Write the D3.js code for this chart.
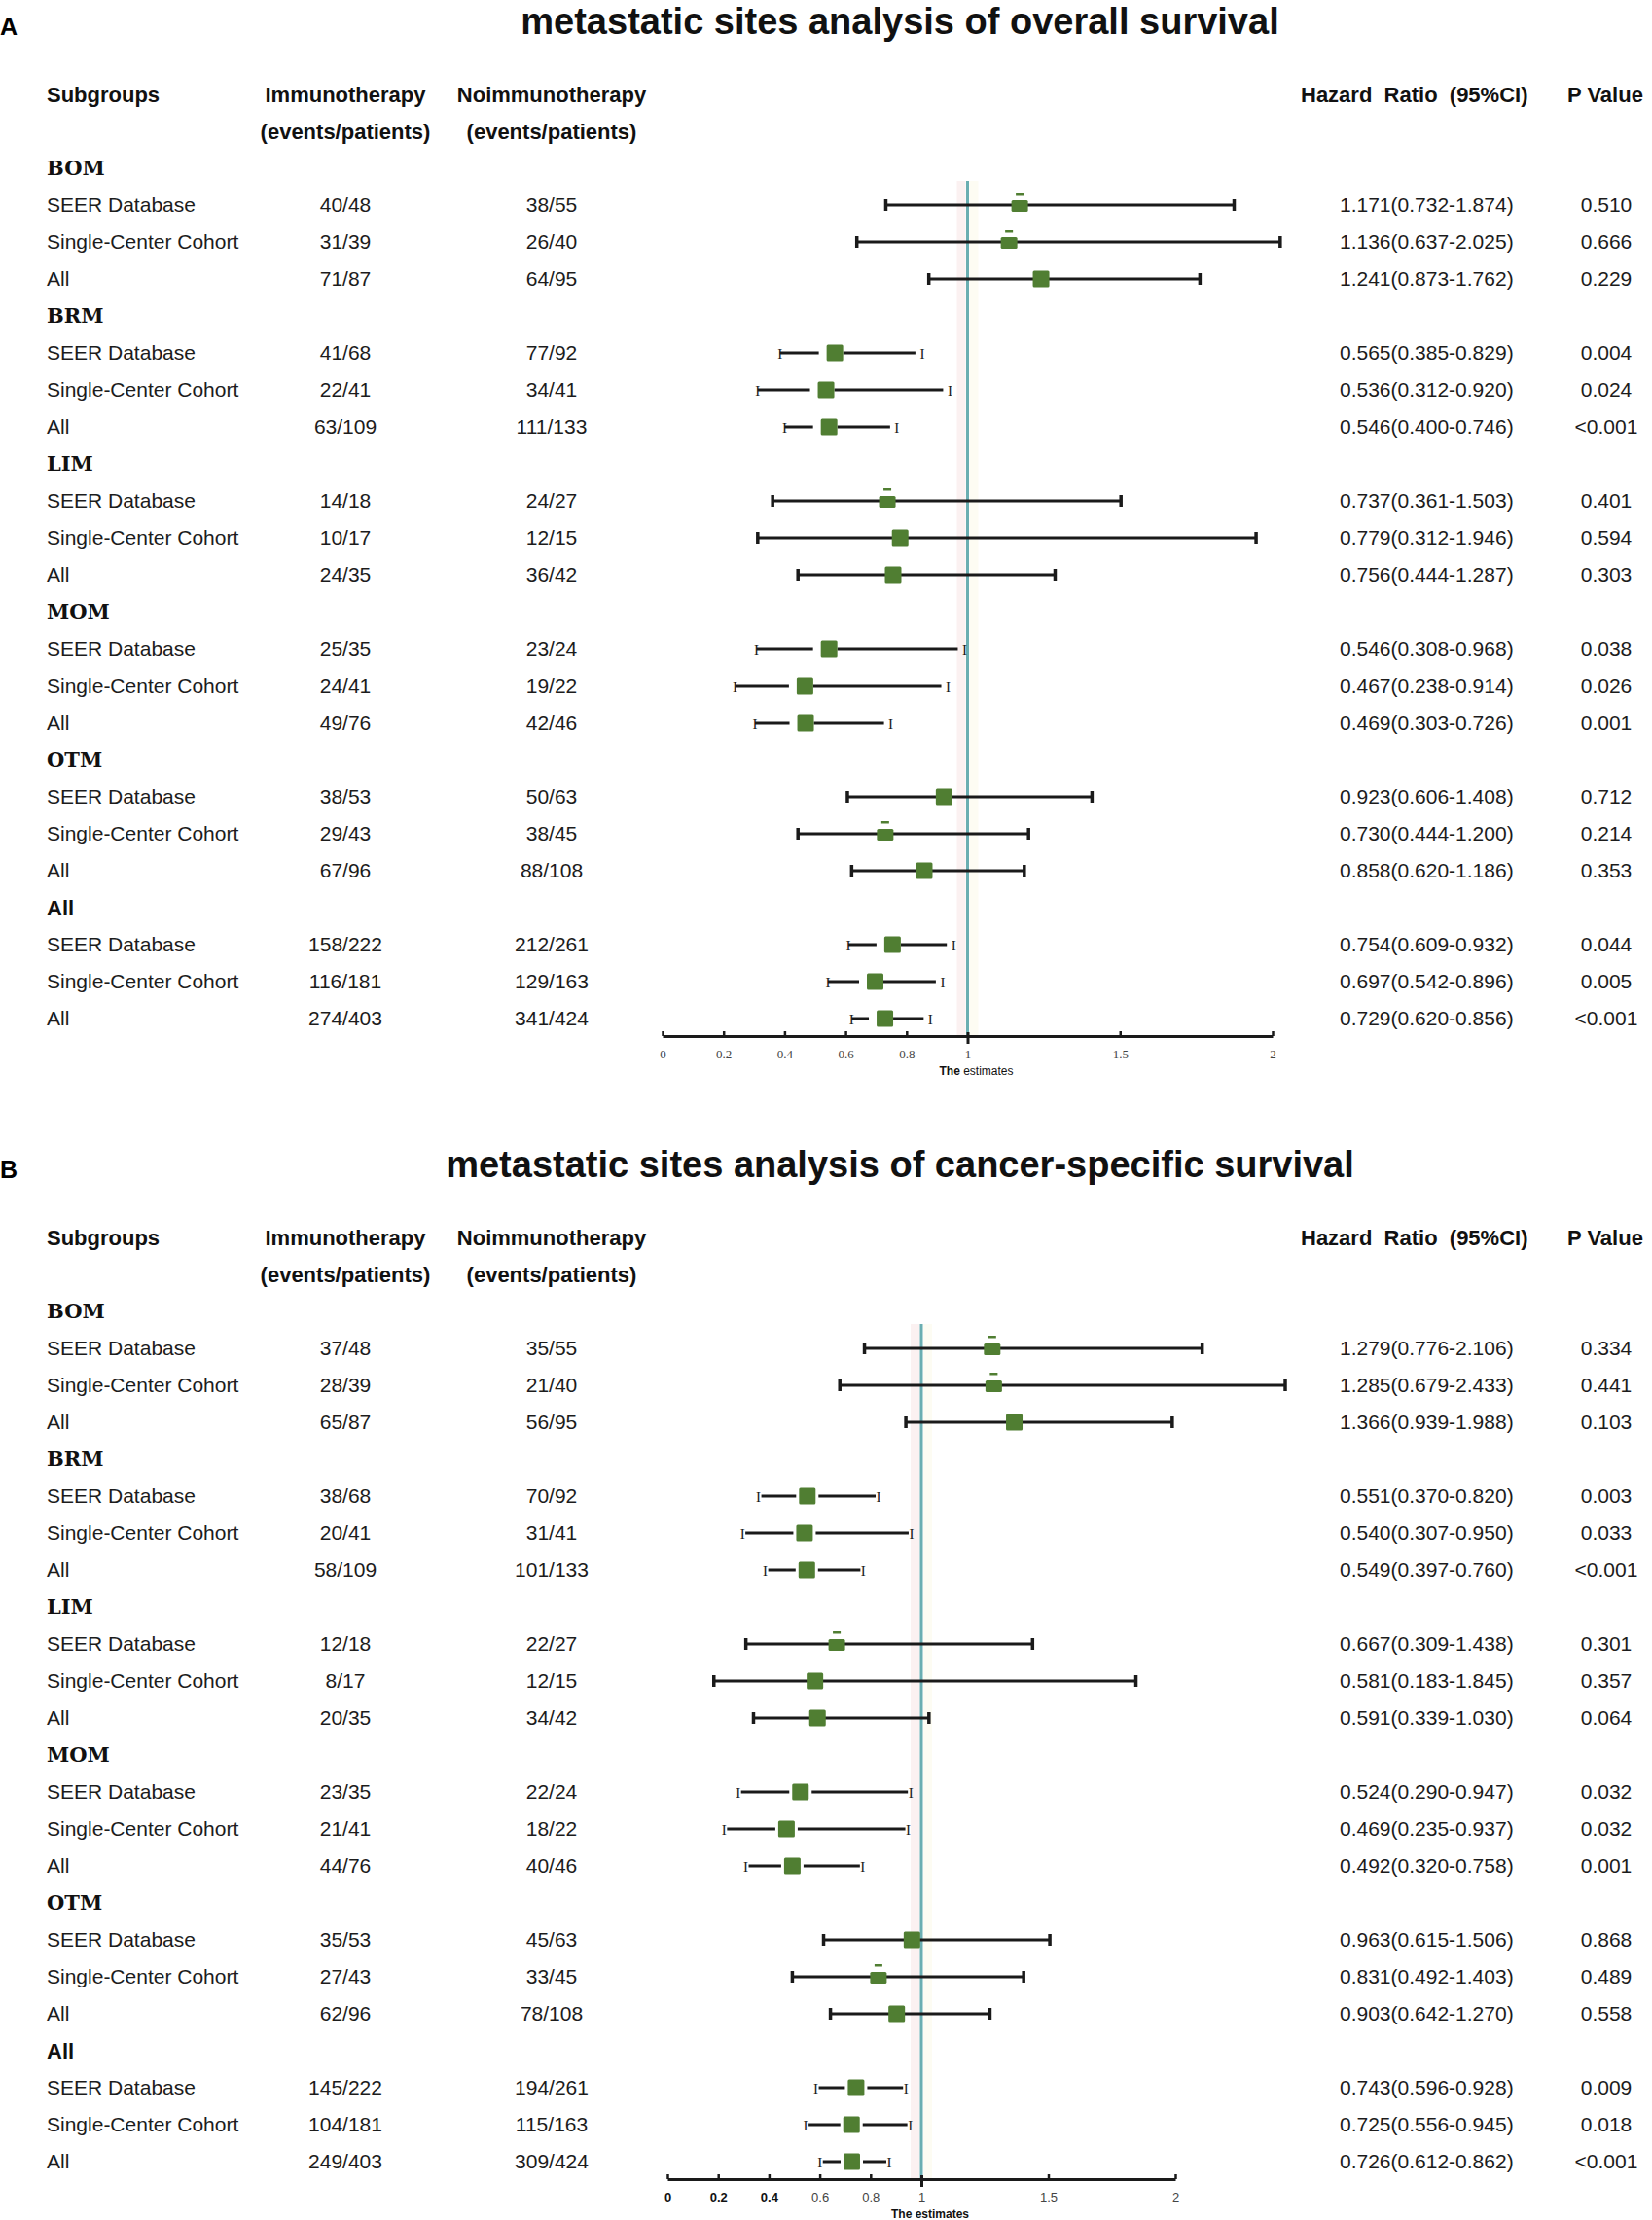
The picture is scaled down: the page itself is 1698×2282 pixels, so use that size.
<!DOCTYPE html>
<html>
<head>
<meta charset="utf-8">
<script src="https://cdn.jsdelivr.net/npm/d3@7"></script>
<style>
  body { margin: 0; background: #fff; }
</style>
</head>
<body>
<svg id="chart"></svg>
<script>
// sub groups and cohorts (same in both panels)
const groups = ["BOM", "BRM", "LIM", "MOM", "OTM", "All"];
const cohorts = ["SEER Database", "Single-Center Cohort", "All"];
const estimateTicks = [0, 0.2, 0.4, 0.6, 0.8, 1, 1.5, 2];

// A: overall survival
const osImmuno = ["40/48","31/39","71/87","41/68","22/41","63/109","14/18","10/17","24/35","25/35","24/41","49/76","38/53","29/43","67/96","158/222","116/181","274/403"];
const osNoImmuno = ["38/55","26/40","64/95","77/92","34/41","111/133","24/27","12/15","36/42","23/24","19/22","42/46","50/63","38/45","88/108","212/261","129/163","341/424"];
const osHR = [1.171,1.136,1.241,0.565,0.536,0.546,0.737,0.779,0.756,0.546,0.467,0.469,0.923,0.730,0.858,0.754,0.697,0.729];
const osLow = [0.732,0.637,0.873,0.385,0.312,0.400,0.361,0.312,0.444,0.308,0.238,0.303,0.606,0.444,0.620,0.609,0.542,0.620];
const osHigh = [1.874,2.025,1.762,0.829,0.920,0.746,1.503,1.946,1.287,0.968,0.914,0.726,1.408,1.200,1.186,0.932,0.896,0.856];
const osP = ["0.510","0.666","0.229","0.004","0.024","<0.001","0.401","0.594","0.303","0.038","0.026","0.001","0.712","0.214","0.353","0.044","0.005","<0.001"];

// B: cancer-specific survival
const cssImmuno = ["37/48","28/39","65/87","38/68","20/41","58/109","12/18","8/17","20/35","23/35","21/41","44/76","35/53","27/43","62/96","145/222","104/181","249/403"];
const cssNoImmuno = ["35/55","21/40","56/95","70/92","31/41","101/133","22/27","12/15","34/42","22/24","18/22","40/46","45/63","33/45","78/108","194/261","115/163","309/424"];
const cssHR = [1.279,1.285,1.366,0.551,0.540,0.549,0.667,0.581,0.591,0.524,0.469,0.492,0.963,0.831,0.903,0.743,0.725,0.726];
const cssLow = [0.776,0.679,0.939,0.370,0.307,0.397,0.309,0.183,0.339,0.290,0.235,0.320,0.615,0.492,0.642,0.596,0.556,0.612];
const cssHigh = [2.106,2.433,1.988,0.820,0.950,0.760,1.438,1.845,1.030,0.947,0.937,0.758,1.506,1.403,1.270,0.928,0.945,0.862];
const cssP = ["0.334","0.441","0.103","0.003","0.033","<0.001","0.301","0.357","0.064","0.032","0.032","0.001","0.868","0.489","0.558","0.009","0.018","<0.001"];

// rows whose marker carries the little dash above it
const dashedMarkers = [0, 1, 6, 13];

const width = 1698, height = 2282;
const SANS = "'Liberation Sans', Arial, sans-serif";
const SLAB = "'DejaVu Serif', 'Courier New', serif";
const SERIF = "'Liberation Serif', 'Times New Roman', serif";
const GREEN = "#507e32";
const TEAL = "#6aaeb1";
const INK = "#1a1a1a";

// column positions
const COL_LABEL = 48, COL_IMMUNO = 355, COL_NOIMMUNO = 567, COL_HR = 1377, COL_P = 1651;
const FIRST_ROW = 173, ROW_STEP = 38, AXIS_Y = 1065;
const fmt = d3.format(".3f");

const svg = d3.select("#chart")
  .attr("width", width)
  .attr("height", height)
  .style("font-family", SANS);

const panels = [
  { letter: "A", title: "metastatic sites analysis of overall survival",
    immuno: osImmuno, noImmuno: osNoImmuno, hr: osHR, lo: osLow, hi: osHigh, p: osP,
    top: 0, range: [681, 1308], tickFont: SERIF, boldTicks: [],
    gapL: 8, gapR: 0, capL: 0, capR: 7, theBoldOnly: true },
  { letter: "B", title: "metastatic sites analysis of cancer-specific survival",
    immuno: cssImmuno, noImmuno: cssNoImmuno, hr: cssHR, lo: cssLow, hi: cssHigh, p: cssP,
    top: 1175, range: [686, 1208], tickFont: SANS, boldTicks: [0, 0.2, 0.4],
    gapL: 3, gapR: 3, capL: -3, capR: 3, theBoldOnly: false }
];

function drawPanel(cfg) {
  const g = svg.append("g").attr("transform", `translate(0,${cfg.top})`);
  const x = d3.scaleLinear().domain([0, 2]).range(cfg.range);
  const rowY = r => FIRST_ROW + r * ROW_STEP;

  const rows = cfg.hr.map((v, i) => ({
    i,
    row: Math.floor(i / 3) * 4 + (i % 3) + 1,
    cohort: cohorts[i % 3],
    immuno: cfg.immuno[i],
    noImmuno: cfg.noImmuno[i],
    hr: v, lo: cfg.lo[i], hi: cfg.hi[i], p: cfg.p[i]
  }));

  // panel letter + title
  g.append("text").attr("x", 0).attr("y", 27).attr("dy", "0.35em")
    .attr("font-size", 25).attr("font-weight", "bold").text(cfg.letter);
  g.append("text").attr("x", 925).attr("y", 22).attr("dy", "0.35em")
    .attr("text-anchor", "middle").attr("font-size", 38).attr("font-weight", "bold")
    .attr("fill", "#111").text(cfg.title);

  // header
  const head = g.append("g").attr("font-size", 22).attr("font-weight", "bold").attr("fill", "#111");
  head.append("text").attr("x", COL_LABEL).attr("y", 97).attr("dy", "0.35em").text("Subgroups");
  head.append("text").attr("x", COL_IMMUNO).attr("y", 97).attr("dy", "0.35em").attr("text-anchor", "middle").text("Immunotherapy");
  head.append("text").attr("x", COL_IMMUNO).attr("y", 135).attr("dy", "0.35em").attr("text-anchor", "middle").text("(events/patients)");
  head.append("text").attr("x", COL_NOIMMUNO).attr("y", 97).attr("dy", "0.35em").attr("text-anchor", "middle").text("Noimmunotherapy");
  head.append("text").attr("x", COL_NOIMMUNO).attr("y", 135).attr("dy", "0.35em").attr("text-anchor", "middle").text("(events/patients)");
  head.append("text").attr("x", 1337).attr("y", 97).attr("dy", "0.35em").attr("xml:space", "preserve").text("Hazard  Ratio  (95%CI)");
  head.append("text").attr("x", 1611).attr("y", 97).attr("dy", "0.35em").text("P Value");

  // group headers
  g.selectAll("text.group").data(groups).join("text")
    .attr("class", "group")
    .attr("x", COL_LABEL)
    .attr("y", (d, k) => rowY(k * 4))
    .attr("dy", "0.35em")
    .attr("font-weight", "bold")
    .attr("font-family", d => d === "All" ? SANS : SLAB)
    .attr("font-size", d => d === "All" ? 22 : 21)
    .attr("fill", "#111")
    .text(d => d);

  // table text
  const txt = g.append("g").attr("font-size", 21).attr("fill", "#1c1c1c");
  const cell = (cls, xPos, anchor, fn) => txt.selectAll("text." + cls).data(rows).join("text")
    .attr("class", cls).attr("x", xPos).attr("y", d => rowY(d.row)).attr("dy", "0.35em")
    .attr("text-anchor", anchor).text(fn);
  cell("lab", COL_LABEL, "start", d => d.cohort);
  cell("imm", COL_IMMUNO, "middle", d => d.immuno);
  cell("noimm", COL_NOIMMUNO, "middle", d => d.noImmuno);
  cell("hrtxt", COL_HR, "start", d => `${fmt(d.hr)}(${fmt(d.lo)}-${fmt(d.hi)})`);
  cell("ptxt", COL_P, "middle", d => d.p);

  // reference line at HR = 1
  const refTop = rowY(1) - 25;
  g.append("rect").attr("x", x(1) - 11).attr("y", refTop).attr("width", 9)
    .attr("height", AXIS_Y - refTop).attr("fill", "#fbf1f1");
  g.append("rect").attr("x", x(1) + 2).attr("y", refTop).attr("width", 9)
    .attr("height", AXIS_Y - refTop).attr("fill", "#fdfcf3");
  g.append("line").attr("x1", x(1)).attr("x2", x(1))
    .attr("y1", refTop).attr("y2", AXIS_Y)
    .attr("stroke", TEAL).attr("stroke-width", 3);

  // axis
  const axis = g.append("g").attr("transform", `translate(0,${AXIS_Y})`)
    .call(d3.axisBottom(x).tickValues(estimateTicks).tickFormat(d3.format("~g"))
      .tickSize(-5).tickSizeOuter(0).tickPadding(14));
  axis.select(".domain").attr("stroke", INK).attr("stroke-width", 3);
  axis.selectAll(".tick line").attr("stroke", INK).attr("stroke-width", 2.5);
  axis.selectAll(".tick").filter(d => d === 1).select("line")
    .attr("y1", 8).attr("y2", -4).attr("stroke-width", 3);
  axis.selectAll(".tick text")
    .attr("font-family", cfg.tickFont).attr("font-size", 13)
    .attr("fill", d => cfg.boldTicks.includes(d) ? "#111" : "#444")
    .attr("font-weight", d => cfg.boldTicks.includes(d) ? "bold" : "normal");

  const est = g.append("text").attr("x", x(1) + 9).attr("y", AXIS_Y + 36).attr("dy", "0.35em")
    .attr("text-anchor", "middle").attr("font-size", 12).attr("fill", "#111");
  est.append("tspan").attr("font-weight", "bold").text("The");
  est.append("tspan").attr("font-weight", cfg.theBoldOnly ? "normal" : "bold").text(" estimates");

  // whiskers
  const half = 8.5;
  const wg = g.append("g").attr("stroke", INK).attr("stroke-width", 3);
  rows.forEach(d => {
    const y = rowY(d.row);
    if (d.hi >= 1) {
      wg.append("line").attr("x1", x(d.lo)).attr("x2", x(d.hi)).attr("y1", y).attr("y2", y);
      [d.lo, d.hi].forEach(v => wg.append("line")
        .attr("x1", x(v)).attr("x2", x(v)).attr("y1", y - 6).attr("y2", y + 6)
        .attr("stroke-width", 3.5));
    } else {
      wg.append("line").attr("x1", x(d.lo)).attr("x2", x(d.hr) - half - cfg.gapL)
        .attr("y1", y).attr("y2", y);
      wg.append("line").attr("x1", x(d.hr) + half + cfg.gapR).attr("x2", x(d.hi))
        .attr("y1", y).attr("y2", y);
      [[d.lo, cfg.capL], [d.hi, cfg.capR]].forEach(([v, off]) => g.append("text")
        .attr("x", x(v) + off).attr("y", y + 1).attr("dy", "0.35em")
        .attr("text-anchor", "middle").attr("font-family", SERIF)
        .attr("font-size", 15).attr("fill", INK).text("I"));
    }
  });

  // markers
  g.selectAll("rect.marker").data(rows).join("rect")
    .attr("class", "marker")
    .attr("x", d => x(d.hr) - half)
    .attr("width", half * 2)
    .attr("y", d => dashedMarkers.includes(d.i) ? rowY(d.row) - 5 : rowY(d.row) - half)
    .attr("height", d => dashedMarkers.includes(d.i) ? 12 : half * 2)
    .attr("rx", 1.5)
    .attr("fill", GREEN);
  g.selectAll("rect.dash").data(rows.filter(d => dashedMarkers.includes(d.i))).join("rect")
    .attr("class", "dash")
    .attr("x", d => x(d.hr) - 4)
    .attr("y", d => rowY(d.row) - 13)
    .attr("width", 8).attr("height", 2.5)
    .attr("fill", GREEN);
}

svg.append("rect").attr("width", width).attr("height", height).attr("fill", "#fff");
panels.forEach(drawPanel);
</script>
</body>
</html>
